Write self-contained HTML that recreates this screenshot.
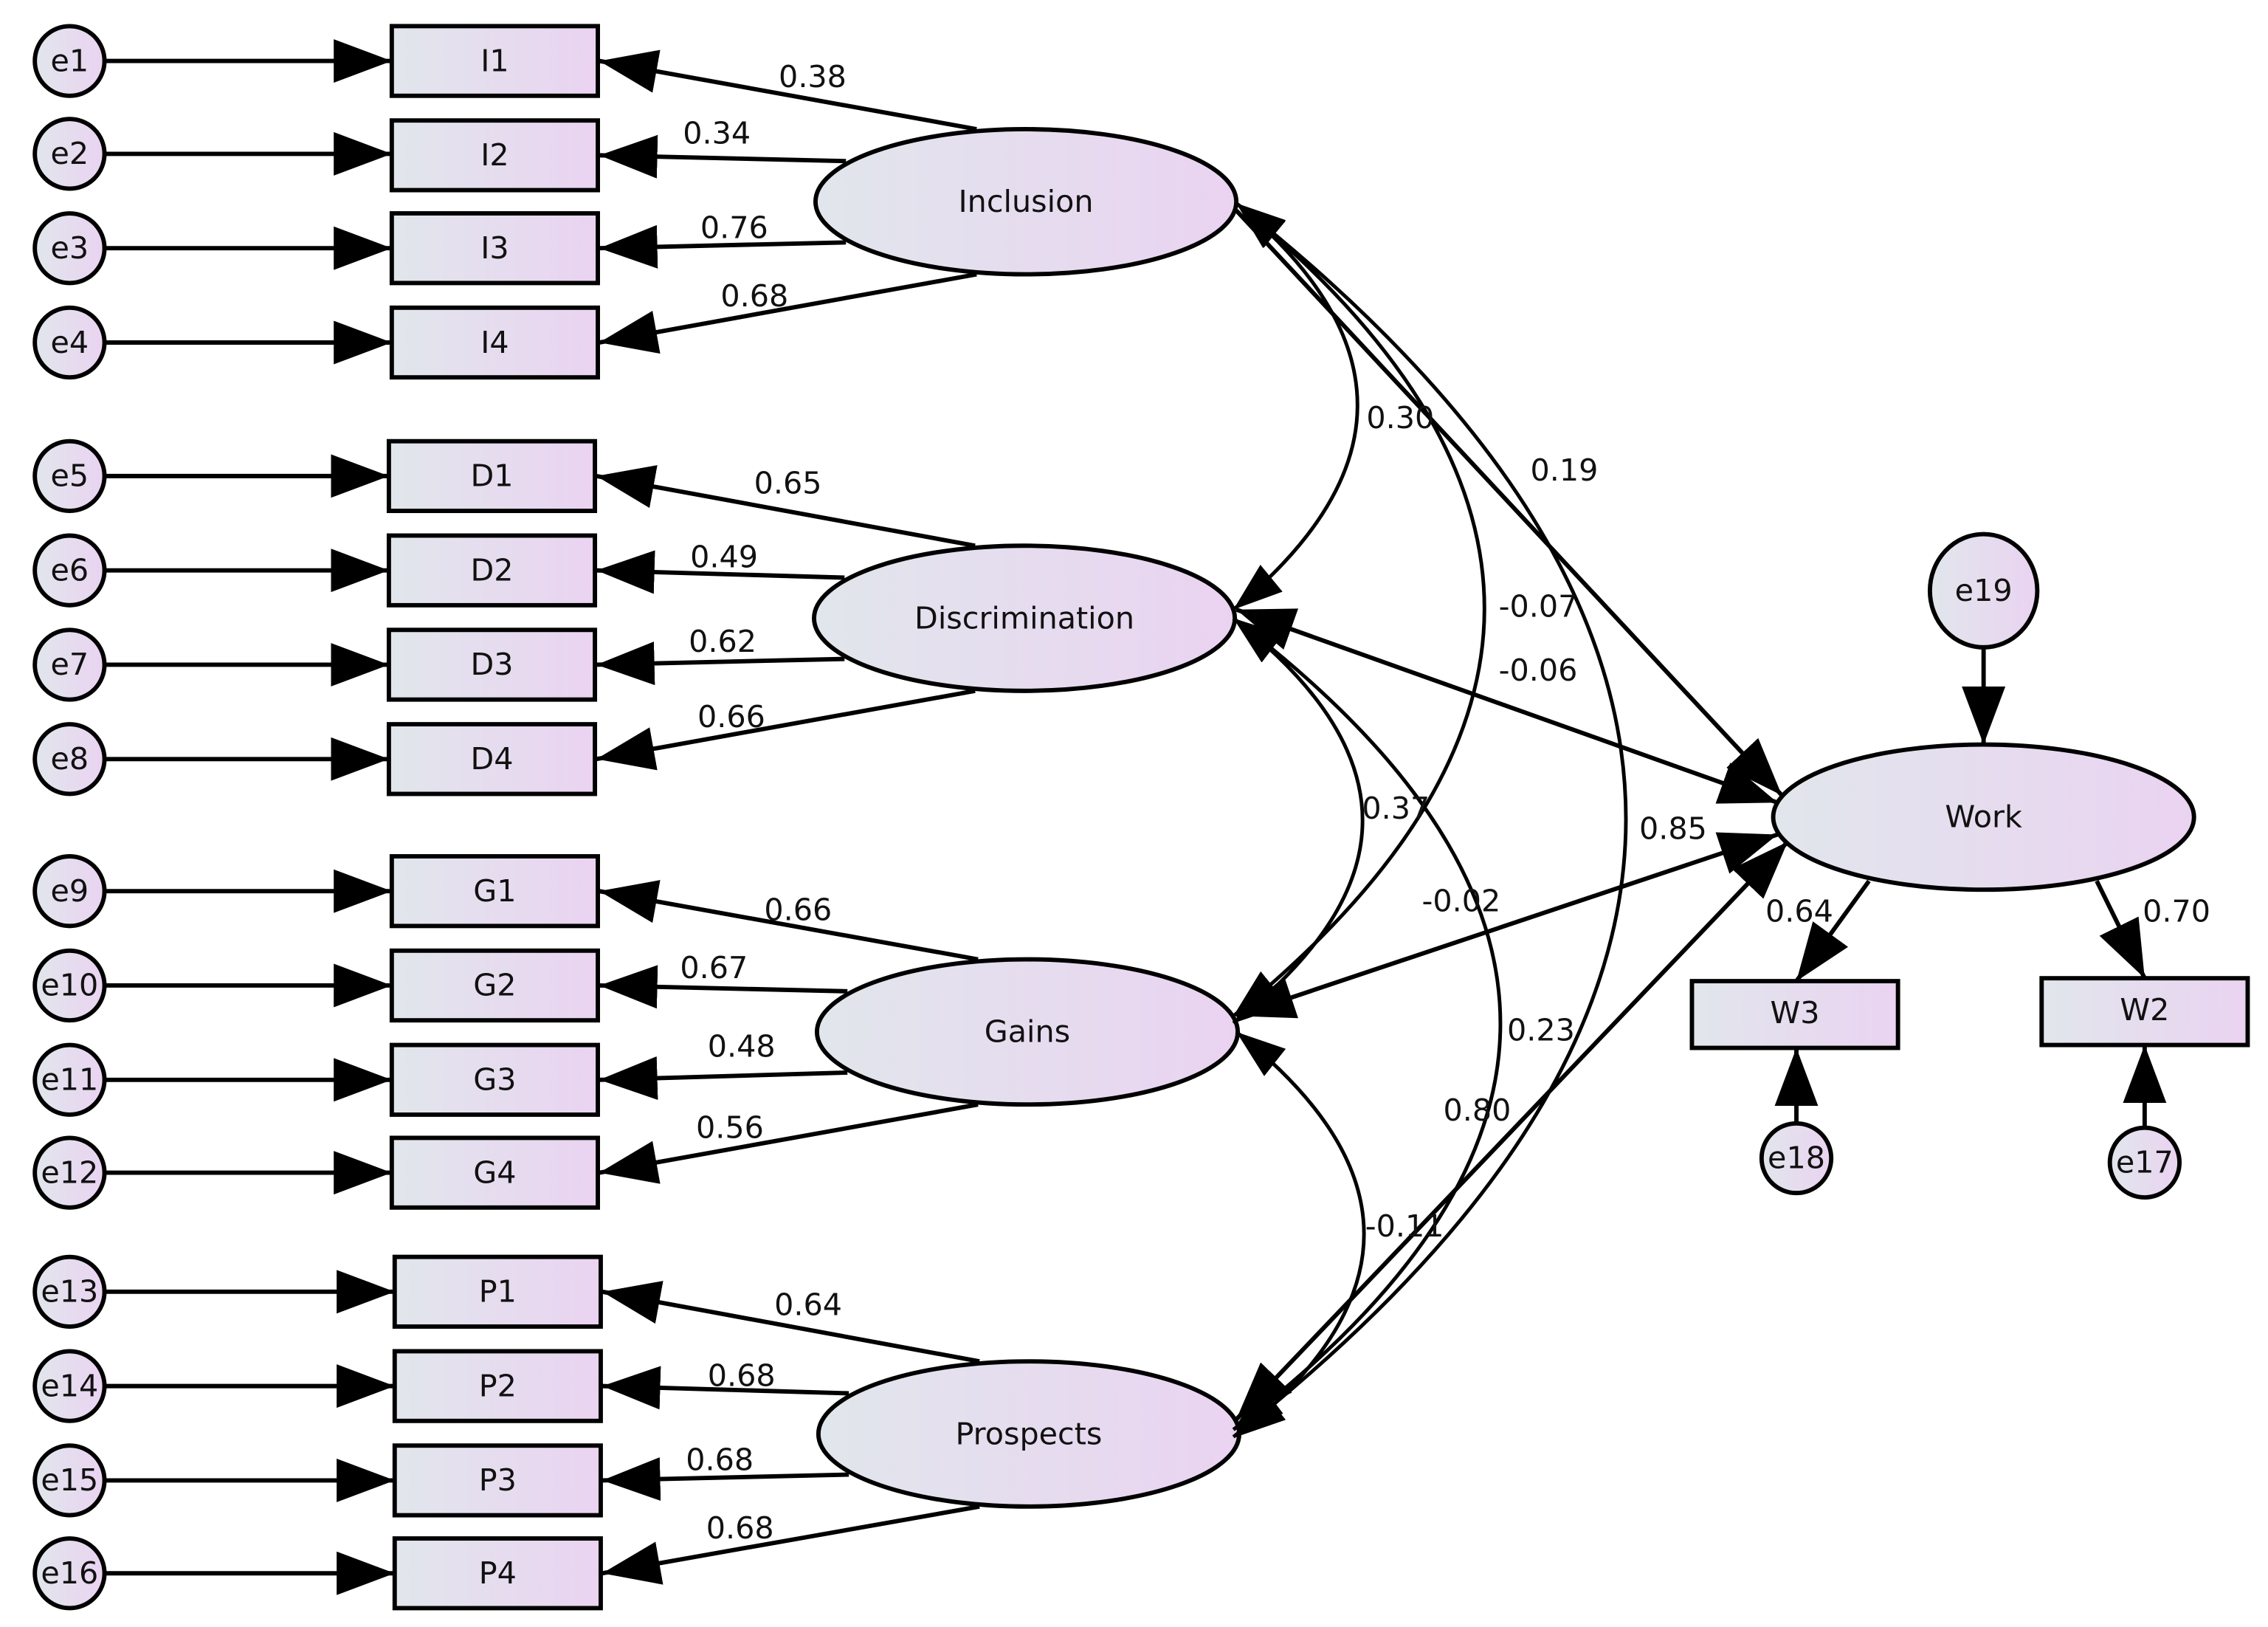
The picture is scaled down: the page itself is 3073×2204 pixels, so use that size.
<!DOCTYPE html>
<html><head><meta charset="utf-8"><style>
html,body{margin:0;padding:0;background:#fff;}
svg{display:block;}
text{font-family:"DejaVu Sans","Liberation Sans",sans-serif;font-size:21px;fill:#111;}
</style></head><body>
<svg width="3073" height="2204" viewBox="0 0 1563 1121" preserveAspectRatio="none" xmlns="http://www.w3.org/2000/svg">
<defs>
<linearGradient id="g" x1="0" x2="1" y1="0" y2="0"><stop offset="0" stop-color="#e1e6ec"/><stop offset="1" stop-color="#ead3f1"/></linearGradient>
<marker id="a" markerUnits="userSpaceOnUse" markerWidth="40" markerHeight="30" refX="40" refY="15" orient="auto-start-reverse"><path d="M0,0 L40,15 L0,30 Z" fill="#000"/></marker>
<marker id="s" markerUnits="userSpaceOnUse" markerWidth="34" markerHeight="24" refX="34" refY="12" orient="auto-start-reverse"><path d="M0,0 L34,12 L0,24 Z" fill="#000"/></marker>
</defs>
<g stroke="#000" stroke-width="3" fill="url(#g)">
<!-- error circles -->
<g id="errs">
<circle cx="48" cy="42" r="24"/><circle cx="48" cy="106" r="24"/><circle cx="48" cy="171" r="24"/><circle cx="48" cy="236" r="24"/>
<circle cx="48" cy="328" r="24"/><circle cx="48" cy="393" r="24"/><circle cx="48" cy="458" r="24"/><circle cx="48" cy="523" r="24"/>
<circle cx="48" cy="614" r="24"/><circle cx="48" cy="679" r="24"/><circle cx="48" cy="744" r="24"/><circle cx="48" cy="808" r="24"/>
<circle cx="48" cy="890" r="24"/><circle cx="48" cy="955" r="24"/><circle cx="48" cy="1020" r="24"/><circle cx="48" cy="1084" r="24"/>
</g>
<!-- boxes -->
<rect x="270" y="18" width="142" height="48"/><rect x="270" y="83" width="142" height="48"/><rect x="270" y="147" width="142" height="48"/><rect x="270" y="212" width="142" height="48"/>
<rect x="268" y="304" width="142" height="48"/><rect x="268" y="369" width="142" height="48"/><rect x="268" y="434" width="142" height="48"/><rect x="268" y="499" width="142" height="48"/>
<rect x="270" y="590" width="142" height="48"/><rect x="270" y="655" width="142" height="48"/><rect x="270" y="720" width="142" height="48"/><rect x="270" y="784" width="142" height="48"/>
<rect x="272" y="866" width="142" height="48"/><rect x="272" y="931" width="142" height="48"/><rect x="272" y="996" width="142" height="48"/><rect x="272" y="1060" width="142" height="48"/>
<rect x="1166" y="676" width="142" height="46"/><rect x="1407" y="674" width="142" height="46"/>
<!-- latents -->
<ellipse cx="707" cy="139" rx="145" ry="50"/><ellipse cx="706" cy="426" rx="145" ry="50"/><ellipse cx="708" cy="711" rx="145" ry="50"/><ellipse cx="709" cy="988" rx="145" ry="50"/>
<ellipse cx="1367" cy="563" rx="145" ry="50"/>
<ellipse cx="1367" cy="407" rx="37" ry="39"/>
<circle cx="1238" cy="798" r="24"/><circle cx="1478" cy="801" r="24"/>
</g>
<g stroke="#000" stroke-width="3" fill="none" marker-end="url(#a)">
<!-- e -> boxes -->
<line x1="72" y1="42" x2="270" y2="42"/><line x1="72" y1="106" x2="270" y2="106"/><line x1="72" y1="171" x2="270" y2="171"/><line x1="72" y1="236" x2="270" y2="236"/>
<line x1="72" y1="328" x2="268" y2="328"/><line x1="72" y1="393" x2="268" y2="393"/><line x1="72" y1="458" x2="268" y2="458"/><line x1="72" y1="523" x2="268" y2="523"/>
<line x1="72" y1="614" x2="270" y2="614"/><line x1="72" y1="679" x2="270" y2="679"/><line x1="72" y1="744" x2="270" y2="744"/><line x1="72" y1="808" x2="270" y2="808"/>
<line x1="72" y1="890" x2="272" y2="890"/><line x1="72" y1="955" x2="272" y2="955"/><line x1="72" y1="1020" x2="272" y2="1020"/><line x1="72" y1="1084" x2="272" y2="1084"/>
<!-- loadings -->
<line x1="673" y1="89" x2="413" y2="42"/><line x1="583" y1="111" x2="413" y2="107"/><line x1="583" y1="167" x2="413" y2="171"/><line x1="673" y1="189" x2="413" y2="236"/>
<line x1="672" y1="376" x2="411" y2="328"/><line x1="582" y1="398" x2="411" y2="393"/><line x1="582" y1="454" x2="411" y2="458"/><line x1="672" y1="476" x2="411" y2="523"/>
<line x1="674" y1="661" x2="413" y2="614"/><line x1="584" y1="683" x2="413" y2="679"/><line x1="584" y1="739" x2="413" y2="744"/><line x1="674" y1="761" x2="413" y2="808"/>
<line x1="675" y1="938" x2="415" y2="890"/><line x1="585" y1="960" x2="415" y2="955"/><line x1="585" y1="1016" x2="415" y2="1020"/><line x1="675" y1="1038" x2="415" y2="1084"/>
<!-- structural -->
<line x1="852" y1="145" x2="1228" y2="548"/>
<line x1="1367" y1="446" x2="1367" y2="513"/>
<line x1="1288" y1="607" x2="1238" y2="676"/>
<line x1="1445" y1="607" x2="1478" y2="674"/>
<line x1="1238" y1="774" x2="1238" y2="722"/>
<line x1="1478" y1="777" x2="1478" y2="720"/>
</g>
<g stroke="#000" stroke-width="3" fill="none" marker-start="url(#a)" marker-end="url(#a)">
<line x1="852" y1="420" x2="1225" y2="553"/>
<line x1="852" y1="700" x2="1225" y2="575"/>
<line x1="852" y1="978" x2="1232" y2="580"/>
</g>
<g stroke="#000" stroke-width="2.5" fill="none" marker-start="url(#s)" marker-end="url(#s)">
<path d="M852,140 Q1020,280 850,420"/>
<path d="M852,140 Q1195,420 850,700"/>
<path d="M852,140 Q1390,565 850,990"/>
<path d="M850,426 Q1028,565 850,705"/>
<path d="M850,426 Q1218,705 850,985"/>
<path d="M852,711 Q1028,850 852,990"/>
</g>
<g text-anchor="middle">
<text x="48" y="49">e1</text><text x="48" y="113">e2</text><text x="48" y="178">e3</text><text x="48" y="243">e4</text>
<text x="48" y="335">e5</text><text x="48" y="400">e6</text><text x="48" y="465">e7</text><text x="48" y="530">e8</text>
<text x="48" y="621">e9</text><text x="48" y="686">e10</text><text x="48" y="751">e11</text><text x="48" y="815">e12</text>
<text x="48" y="897">e13</text><text x="48" y="962">e14</text><text x="48" y="1027">e15</text><text x="48" y="1091">e16</text>
<text x="341" y="49">I1</text><text x="341" y="114">I2</text><text x="341" y="178">I3</text><text x="341" y="243">I4</text>
<text x="339" y="335">D1</text><text x="339" y="400">D2</text><text x="339" y="465">D3</text><text x="339" y="530">D4</text>
<text x="341" y="621">G1</text><text x="341" y="686">G2</text><text x="341" y="751">G3</text><text x="341" y="815">G4</text>
<text x="343" y="897">P1</text><text x="343" y="962">P2</text><text x="343" y="1027">P3</text><text x="343" y="1091">P4</text>
<text x="707" y="146">Inclusion</text><text x="706" y="433">Discrimination</text><text x="708" y="718">Gains</text><text x="709" y="995">Prospects</text>
<text x="1367" y="570">Work</text><text x="1367" y="414">e19</text>
<text x="1237" y="705">W3</text><text x="1478" y="703">W2</text>
<text x="1238" y="805">e18</text><text x="1478" y="808">e17</text>
<text x="560" y="60">0.38</text><text x="494" y="99">0.34</text><text x="506" y="164">0.76</text><text x="520" y="211">0.68</text>
<text x="543" y="340">0.65</text><text x="499" y="391">0.49</text><text x="498" y="449">0.62</text><text x="504" y="501">0.66</text>
<text x="550" y="634">0.66</text><text x="492" y="674">0.67</text><text x="511" y="728">0.48</text><text x="503" y="784">0.56</text>
<text x="557" y="906">0.64</text><text x="511" y="955">0.68</text><text x="496" y="1013">0.68</text><text x="510" y="1060">0.68</text>
<text x="965" y="295">0.30</text><text x="1078" y="331">0.19</text><text x="1060" y="425">-0.07</text><text x="1060" y="469">-0.06</text>
<text x="962" y="564">0.37</text><text x="1153" y="578">0.85</text><text x="1007" y="628">-0.02</text><text x="1062" y="717">0.23</text>
<text x="1018" y="772">0.80</text><text x="968" y="852">-0.11</text>
<text x="1240" y="635">0.64</text><text x="1500" y="635">0.70</text>
</g>
</svg>
</body></html>
